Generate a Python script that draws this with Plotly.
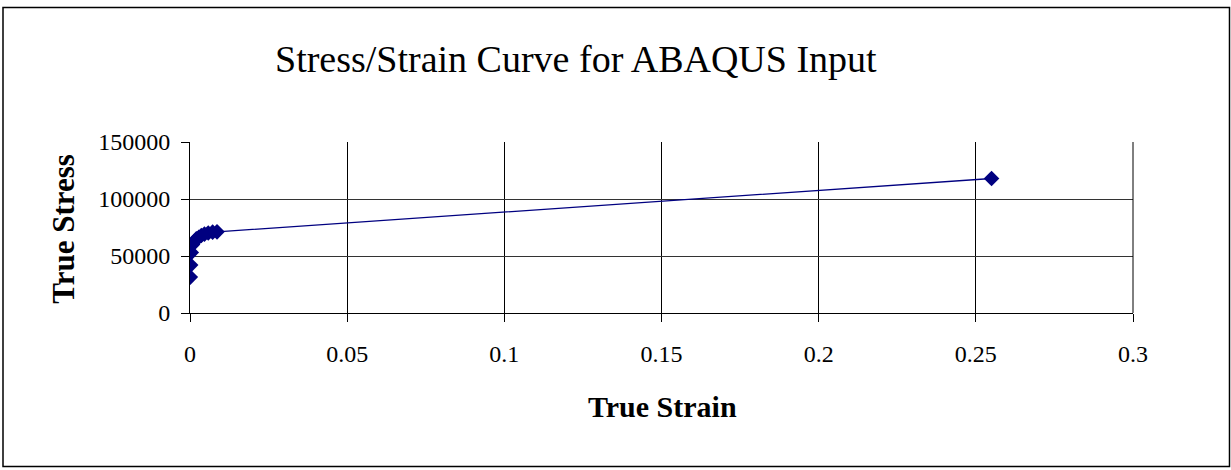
import plotly.graph_objects as go

strain = [0.0001, 0.0002, 0.0004, 0.0008, 0.0014, 0.002, 0.0028, 0.0036, 0.0046, 0.0058, 0.0072, 0.0086, 0.255]
stress = [31500, 42000, 53000, 60000, 63000, 65000, 66500, 68000, 69200, 70200, 70900, 71200, 118000]

x_ticks = [0, 0.05, 0.1, 0.15, 0.2, 0.25, 0.3]
x_labels = ["0", "0.05", "0.1", "0.15", "0.2", "0.25", "0.3"]
y_ticks = [0, 50000, 100000, 150000]
y_labels = ["0", "50000", "100000", "150000"]

W, H = 1231, 470
L, R, T, B = 190, 98, 142, 156.5
pw = W - L - R
ph = H - T - B

def px(x):
    return (x - L) / pw

def py(y):
    return 1 - (y - T) / ph

fig = go.Figure()
fig.add_trace(go.Scatter(
    x=strain, y=stress, mode="lines+markers",
    line=dict(color="#000080", width=1.3),
    marker=dict(symbol="diamond", size=12, color="#000080"),
    showlegend=False,
))

font = "Liberation Serif, Times New Roman, serif"
fig.update_layout(
    width=W, height=H,
    margin=dict(l=L, r=R, t=T, b=B),
    paper_bgcolor="white", plot_bgcolor="white",
    font=dict(family=font, color="black", size=24),
    xaxis=dict(range=[0, 0.3], tickvals=x_ticks, ticktext=x_labels,
               showgrid=True, gridcolor="black", gridwidth=1,
               showline=True, linecolor="black", linewidth=1,
               ticks="outside", ticklen=8, tickcolor="black",
               ticklabelstandoff=11,
               zeroline=False, mirror=False,
               tickfont=dict(size=24, family=font)),
    yaxis=dict(range=[0, 150000], tickvals=y_ticks, ticktext=y_labels,
               showgrid=True, gridcolor="#333333", gridwidth=1,
               showline=True, linecolor="black", linewidth=1,
               ticks="outside", ticklen=8, tickcolor="black",
               ticklabelstandoff=6,
               zeroline=False,
               tickfont=dict(size=24, family=font)),
    shapes=[
        dict(type="rect", xref="paper", yref="paper",
             x0=px(3), x1=px(1229.5), y0=py(467.5), y1=py(7),
             line=dict(color="black", width=1.5)),
        dict(type="line", xref="paper", yref="paper",
             x0=1, x1=1, y0=0, y1=1, line=dict(color="black", width=1)),
    ],
    annotations=[
        dict(text="Stress/Strain Curve for ABAQUS Input", xref="paper", yref="paper",
             x=px(576), y=py(59), showarrow=False, xanchor="center", yanchor="middle",
             font=dict(size=38, family=font)),
        dict(text="<b>True Strain</b>", xref="paper", yref="paper",
             x=px(662), y=py(407), showarrow=False, xanchor="center", yanchor="middle",
             font=dict(size=30, family=font)),
        dict(text="<b>True Stress</b>", xref="paper", yref="paper",
             x=px(64), y=py(229), showarrow=False, xanchor="center", yanchor="middle",
             textangle=-90, font=dict(size=31, family=font)),
    ],
)

fig.write_html("out.html")
